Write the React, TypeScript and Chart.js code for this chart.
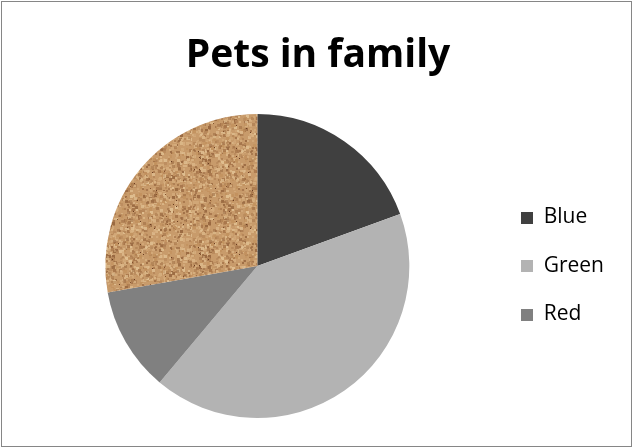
import React, { useEffect, useRef } from "react";
import { Chart, registerables } from "chart.js";

Chart.register(...registerables);

const TITLE = "Pets in family";
const labels = ["Blue", "Green", "Red", "Other"];
const values = [7, 15, 4, 10];
const sliceColors = ["#404040", "#b3b3b3", "#808080"];
const legendCount = 3;

function mulberry32(a: number) {
  return function () {
    a |= 0;
    a = (a + 0x6d2b79f5) | 0;
    let t = Math.imul(a ^ (a >>> 15), 1 | a);
    t = (t + Math.imul(t ^ (t >>> 7), 61 | t)) ^ t;
    return ((t ^ (t >>> 14)) >>> 0) / 4294967296;
  };
}

function makeCork(): CanvasPattern | string {
  const c = document.createElement("canvas");
  c.width = 96;
  c.height = 96;
  const g = c.getContext("2d");
  if (!g) return "#c4976a";
  g.fillStyle = "#c89b6b";
  g.fillRect(0, 0, 96, 96);
  const rnd = mulberry32(12345);
  const palette = ["#d9b384", "#e0bf91", "#b58659", "#a8774c", "#c2925f", "#d4ab7b", "#9a6a42"];
  for (let i = 0; i < 1400; i++) {
    const x = Math.floor(rnd() * 96);
    const y = Math.floor(rnd() * 96);
    const s = rnd() < 0.6 ? 2 : 3;
    g.globalAlpha = 0.5 + rnd() * 0.5;
    g.fillStyle = palette[Math.floor(rnd() * palette.length)];
    g.fillRect(x, y, s, s);
  }
  g.globalAlpha = 1;
  for (let i = 0; i < 40; i++) {
    const x = Math.floor(rnd() * 96);
    const y = Math.floor(rnd() * 96);
    g.fillStyle = rnd() < 0.5 ? "#6a3d22" : "#84522e";
    g.fillRect(x, y, 1, 1);
  }
  const p = g.createPattern(c, "repeat");
  return p || "#c4976a";
}

function makeSquare(color: string) {
  const c = document.createElement("canvas");
  c.width = 12;
  c.height = 12;
  const g = c.getContext("2d");
  if (g) {
    g.fillStyle = color;
    g.fillRect(0, 0, 12, 12);
  }
  return c;
}

export default function App() {
  const ref = useRef<HTMLCanvasElement>(null);
  useEffect(() => {
    if (!ref.current) return;
    const cork = makeCork();
    const colors: any[] = [...sliceColors, cork];
    const squares = sliceColors.map(makeSquare);
    const chart = new Chart(ref.current, {
      type: "pie",
      data: {
        labels,
        datasets: [
          {
            data: values,
            backgroundColor: colors,
            borderWidth: 0,
          },
        ],
      },
      options: {
        responsive: false,
        animation: false,
        rotation: 0,
        layout: { padding: { left: 22, right: 18, top: 0, bottom: 30 } },
        plugins: {
          tooltip: { enabled: false },
          title: {
            display: true,
            text: TITLE,
            color: "#000000",
            font: { family: "'Open Sans'", size: 39, weight: "bold" },
            padding: { top: 32.6, bottom: 34.6 },
          },
          legend: {
            display: true,
            position: "right",
            fullSize: false,
            labels: {
              usePointStyle: true,
              pointStyleWidth: 13,
              boxHeight: 12,
              padding: 27.5,
              color: "#000000",
              font: { family: "'Open Sans'", size: 21 },
              generateLabels: (ch: any) =>
                ch.data.labels.slice(0, legendCount).map((t: string, i: number) => ({
                  text: t,
                  fillStyle: sliceColors[i],
                  strokeStyle: sliceColors[i],
                  lineWidth: 0,
                  pointStyle: squares[i],
                  hidden: false,
                  index: i,
                  datasetIndex: 0,
                })),
            },
          },
        },
      },
    });
    return () => chart.destroy();
  }, []);
  return (
    <div style={{ position: "fixed", left: 0, top: 0, width: 632, height: 448, background: "#fff" }}>
      <canvas ref={ref} width={632} height={448} style={{ display: "block" }} />
      <div
        style={{
          position: "absolute",
          left: 1,
          top: 1,
          width: 631,
          height: 446,
          boxSizing: "border-box",
          border: "1px solid #868686",
          pointerEvents: "none",
        }}
      />
    </div>
  );
}
